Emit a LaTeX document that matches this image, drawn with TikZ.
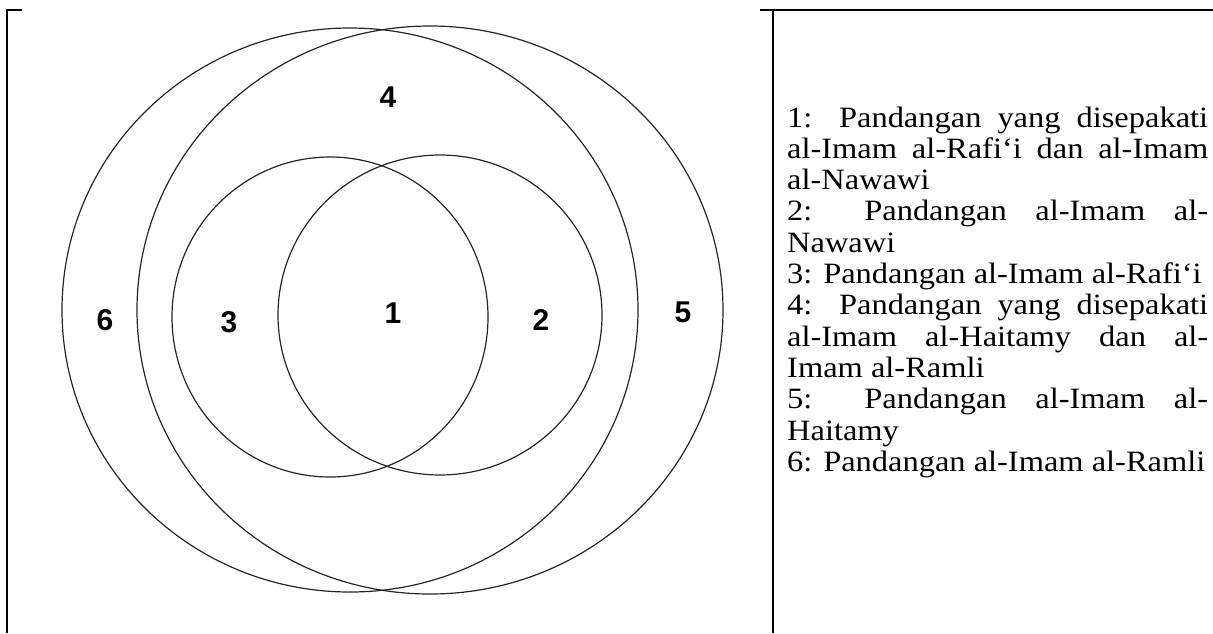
\documentclass[tikz,border=0pt]{standalone}
\usepackage{graphicx}
\usepackage{fontspec}
\setmainfont{Liberation Serif}
\newfontfamily\arialb{Liberation Sans}
\usetikzlibrary{shapes.geometric}
\newcommand{\jline}[1]{\scalebox{1.1}[1]{\makebox[382.7pt][s]{#1}}}
\newcommand{\nline}[1]{\scalebox{1.1}[1]{#1}}
\tikzset{
  frameline/.style={line width=2pt, black},
  ring/.style={draw=black!85, line width=1.2pt, ellipse, inner sep=0pt},
  num/.style={font=\arialb\bfseries\fontsize{30}{30}\selectfont, inner sep=0pt},
  txt/.style={font=\fontsize{29.5}{31}\selectfont, inner sep=0pt, anchor=base west}
}
\begin{document}
\begin{tikzpicture}[x=1pt,y=-1pt]
\useasboundingbox (0,0) rectangle (1213,633);
% frame
\coordinate (tl1) at (6,10);
\coordinate (tl2) at (22,10);
\coordinate (lb) at (7,633);
\coordinate (lt) at (7,10);
\coordinate (tr1) at (760,10);
\coordinate (tr2) at (1213,10);
\coordinate (mt) at (773,10);
\coordinate (mb) at (773,633);
\draw[frameline] (tl1) -- (tl2);
\draw[frameline] (lt) -- (lb);
\draw[frameline] (tr1) -- (tr2);
\draw[frameline] (mt) -- (mb);
% circles
\node[ring, minimum width=576pt, minimum height=564pt] (c6) at (350,310) {};
\node[ring, minimum width=586pt, minimum height=568pt] (c5) at (430,310) {};
\node[ring, minimum width=316pt, minimum height=320pt] (c3) at (330,317) {};
\node[ring, minimum width=324pt, minimum height=320pt] (c2) at (440,315) {};
% numbers
\node[num] (n4) at (388,97) {4};
\node[num] (n6) at (105,320) {6};
\node[num] (n3) at (229,322) {3};
\node[num] (n1) at (393,313) {1};
\node[num] (n2) at (541,320) {2};
\node[num] (n5) at (683,312) {5};
% legend
\node[txt] (l1) at (787,127.0) {\jline{1: Pandangan yang disepakati}};
\node[txt] (l2) at (787,158.3) {\jline{al-Imam al-Rafi‘i dan al-Imam}};
\node[txt] (l3) at (787,189.6) {\nline{al-Nawawi}};
\node[txt] (l4) at (787,220.9) {\jline{2: Pandangan al-Imam al-}};
\node[txt] (l5) at (787,252.2) {\nline{Nawawi}};
\node[txt] (l6) at (787,283.5) {\nline{3: Pandangan al-Imam al-Rafi‘i}};
\node[txt] (l7) at (787,314.8) {\jline{4: Pandangan yang disepakati}};
\node[txt] (l8) at (787,346.1) {\jline{al-Imam al-Haitamy dan al-}};
\node[txt] (l9) at (787,377.4) {\nline{Imam al-Ramli}};
\node[txt] (l10) at (787,408.7) {\jline{5: Pandangan al-Imam al-}};
\node[txt] (l11) at (787,440.0) {\nline{Haitamy}};
\node[txt] (l12) at (787,471.3) {\nline{6: Pandangan al-Imam al-Ramli}};
\end{tikzpicture}
\end{document}
